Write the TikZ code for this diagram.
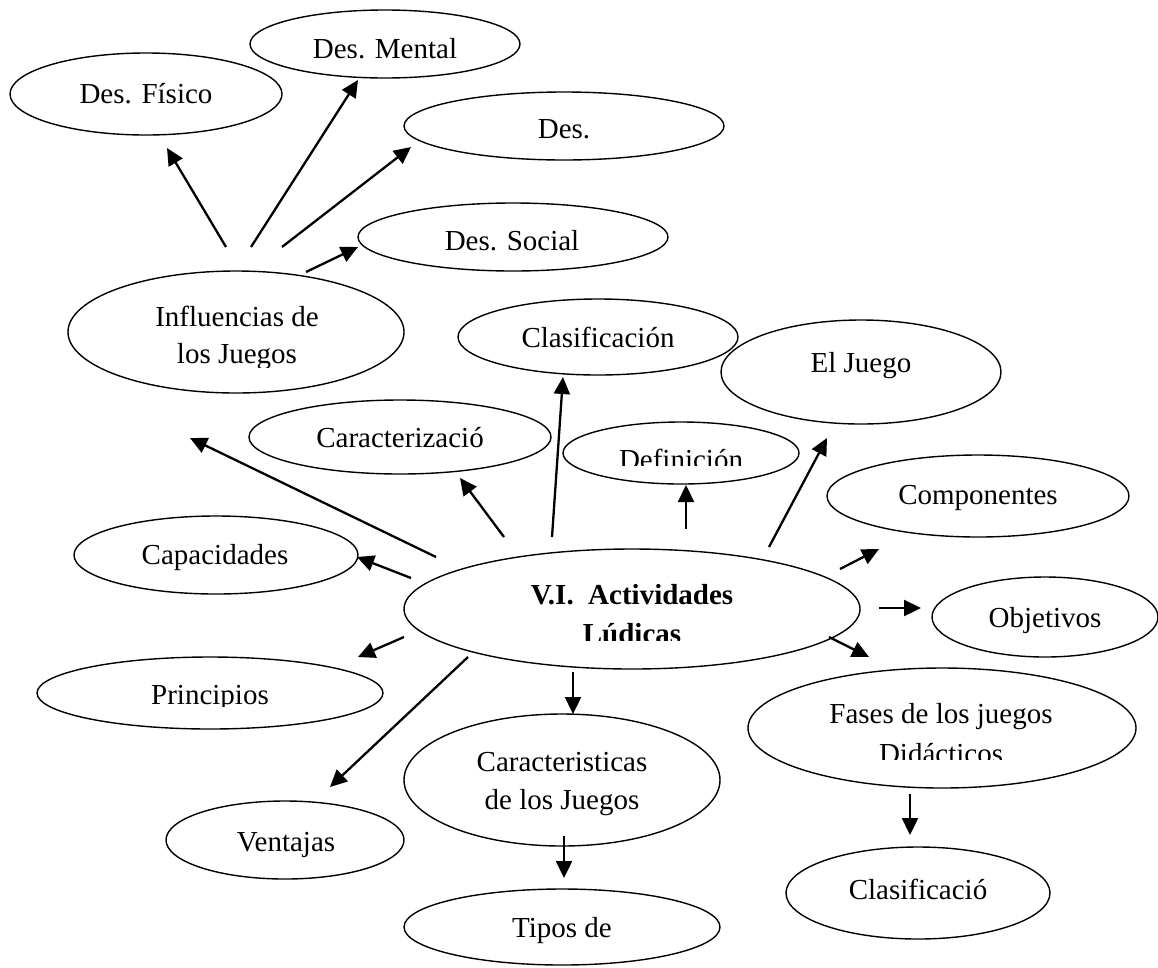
\documentclass[tikz,border=0pt]{standalone}
\usepackage{fontspec}
\setmainfont{Liberation Serif}
\usetikzlibrary{shapes.geometric,arrows.meta,calc}

\tikzset{
  bub/.style={draw, ellipse, line width=1.4pt, inner sep=0pt},
  txt/.style={inner sep=0pt, anchor=base, font=\fontsize{29}{37}\selectfont},
  btxt/.style={txt, font=\fontsize{29}{37}\selectfont\bfseries},
  arr/.style={line width=2.3pt, -{Triangle[length=17pt,width=16pt]}}
}

\begin{document}
\begin{tikzpicture}[x=1pt,y=-1pt]
\useasboundingbox (0,0) rectangle (1158,967);

% ---- bubbles ----
\node[bub, minimum width=272pt, minimum height=82pt]  (fis)  at (146,94)  {};
\node[bub, minimum width=270pt, minimum height=68pt]  (men)  at (385,44)  {};
\node[bub, minimum width=320pt, minimum height=68pt]  (des)  at (564,126) {};
\node[bub, minimum width=310pt, minimum height=68pt]  (soc)  at (513,237) {};
\node[bub, minimum width=336pt, minimum height=122pt] (infl) at (236,332) {};
\node[bub, minimum width=302pt, minimum height=74pt]  (carz) at (400,437) {};
\node[bub, minimum width=280pt, minimum height=76pt]  (clas) at (598,337) {};
\node[bub, minimum width=280pt, minimum height=104pt] (jue)  at (861,372) {};
\node[bub, minimum width=236pt, minimum height=62pt]  (def)  at (681,453) {};
\node[bub, minimum width=302pt, minimum height=82pt]  (comp) at (978,496) {};
\node[bub, minimum width=226pt, minimum height=80pt]  (obj)  at (1045,617) {};
\node[bub, minimum width=388pt, minimum height=120pt] (fas)  at (942,728) {};
\node[bub, minimum width=264pt, minimum height=92pt]  (clf)  at (918,893) {};
\node[bub, minimum width=456pt, minimum height=120pt] (cen)  at (632,609) {};
\node[bub, minimum width=284pt, minimum height=78pt]  (cap)  at (216,555) {};
\node[bub, minimum width=346pt, minimum height=72pt]  (pri)  at (210,693) {};
\node[bub, minimum width=238pt, minimum height=78pt]  (ven)  at (285,840) {};
\node[bub, minimum width=316pt, minimum height=132pt] (car)  at (562,780) {};
\node[bub, minimum width=316pt, minimum height=76pt]  (tip)  at (562,927) {};

% ---- texts ----
\node[txt] (t-fis)  at (146,103) {Des. Físico};
\node[txt] (t-men)  at (385,58)  {Des. Mental};
\node[txt] (t-des)  at (564,138) {Des.};
\node[txt] (t-soc)  at (512,250) {Des. Social};
\node[txt] (t-infl) at (237,326) {Influencias de};
\begin{scope}
  \clip (60,330) rectangle (420,367);
  \node[txt] (t-infl2) at (237,363) {los Juegos};
\end{scope}
\node[txt] (t-carz) at (400,447) {Caracterizació};
\node[txt] (t-clas) at (598,347) {Clasificación};
\node[txt] (t-jue)  at (861,372) {El Juego};
\begin{scope}
  \clip (560,430) rectangle (800,465);
  \node[txt] (t-def) at (681,469) {Definición};
\end{scope}
\node[txt] (t-comp) at (978,504) {Componentes};
\node[txt] (t-obj)  at (1045,627) {Objetivos};
\node[txt] (t-fas)  at (941,723) {Fases de los juegos};
\begin{scope}
  \clip (760,730) rectangle (1130,759);
  \node[txt] (t-fas2) at (941,763) {Didácticos};
\end{scope}
\node[txt] (t-clf)  at (918,899) {Clasificació};
\node[btxt] (t-cen) at (632,604) {V.I.\ \ Actividades};
\begin{scope}
  \clip (420,610) rectangle (850,640);
  \node[btxt] (t-cen2) at (632,643) {Lúdicas};
\end{scope}
\node[txt] (t-cap)  at (215,564) {Capacidades};
\begin{scope}
  \clip (40,660) rectangle (380,706);
  \node[txt] (t-pri) at (210,704) {Principios};
\end{scope}
\node[txt] (t-ven)  at (286,851) {Ventajas};
\node[txt] (t-car)  at (562,771) {Caracteristicas};
\node[txt] (t-car2) at (562,809) {de los Juegos};
\node[txt] (t-tip)  at (562,937) {Tipos de};

% ---- connectors ----
\coordinate (free) at (190,438);

\draw[arr] ($(infl)+(-10,-85)$) -- ($(fis)+(21,54)$);
\draw[arr] ($(infl)+(15,-85)$)  -- ($(men)+(-27,36)$);
\draw[arr] ($(infl)+(46,-85)$)  -- ($(des)+(-153,21)$);
\draw[arr] ($(infl)+(70,-60)$)  -- ($(soc)+(-155,10)$);

\draw[arr] ($(cen)+(-196,-52)$) -- (free);
\draw[arr] ($(cen)+(-128,-72)$) -- ($(carz)+(60,41)$);
\draw[arr] ($(cen)+(-80,-72)$)  -- ($(clas)+(-35,40)$);
\draw[arr] ($(cen)+(54,-80)$)   -- ($(def)+(5,32)$);
\draw[arr] ($(cen)+(137,-62)$)  -- ($(jue)+(-34,66)$);
\draw[arr] ($(cen)+(208,-40)$)  -- ($(comp)+(-99,53)$);
\draw[arr] ($(cen)+(247,-1)$)   -- ($(obj)+(-124,-9)$);
\draw[arr] ($(cen)+(197,28)$)   -- ($(fas)+(-73,-71)$);
\draw[arr] ($(fas)+(-32,66)$)   -- ($(clf)+(-8,-58)$);
\draw[arr] ($(cen)+(-59,63)$)   -- ($(car)+(11,-66)$);
\draw[arr] ($(car)+(2,56)$)     -- ($(tip)+(2,-49)$);
\draw[arr] ($(cen)+(-164,48)$)  -- ($(ven)+(45,-53)$);
\draw[arr] ($(cen)+(-228,28)$)  -- ($(pri)+(148,-36)$);
\draw[arr] ($(cen)+(-221,-31)$) -- ($(cap)+(141,2)$);
\end{tikzpicture}
\end{document}
